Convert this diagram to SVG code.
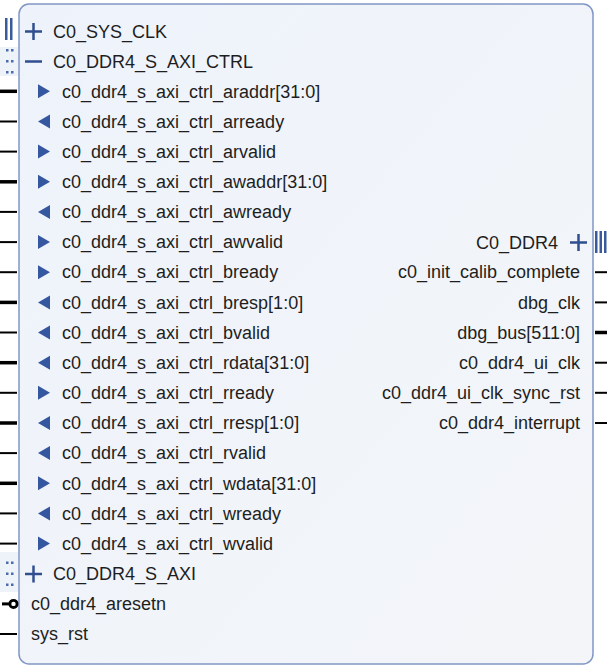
<svg xmlns="http://www.w3.org/2000/svg" width="607" height="671" viewBox="0 0 607 671">
<style>
text{font-family:"Liberation Sans",Arial,sans-serif;font-size:18px;fill:#1e1e1e}
.r{text-anchor:end}
.pin{stroke:#000;stroke-width:2}
.bus{stroke:#000;stroke-width:3.5}
.ic{stroke:#2f4f8f;stroke-width:2.5;fill:none}
.tri{fill:#3557a0}
.bar{fill:#3a5a9a}
.dot{fill:#4a6aa8}
</style>
<defs>
<linearGradient id="bg" x1="0" y1="0" x2="1" y2="1">
<stop offset="0" stop-color="#eef3fb"/>
<stop offset="1" stop-color="#f3f5f8"/>
</linearGradient>
</defs>
<rect width="607" height="671" fill="#ffffff"/>
<g id="block">
<rect x="19" y="4" width="574" height="660" rx="10" fill="url(#bg)" stroke="#8096c4" stroke-width="1.5"/>
</g>
<g id="connectors">
<rect x="0" y="47" width="18" height="29" fill="#eef3fa"/>
<rect x="0" y="552" width="18" height="40" fill="#eef3fa"/>
<rect class="bar" x="5" y="18" width="2.5" height="22"/>
<rect class="bar" x="10" y="18" width="2.5" height="22"/>
<g class="dot">
<rect x="6" y="49" width="2.5" height="2.5"/><rect x="11" y="49" width="2.5" height="2.5"/>
<rect x="6" y="60" width="2.5" height="2.5"/><rect x="11" y="60" width="2.5" height="2.5"/>
<rect x="6" y="71" width="2.5" height="2.5"/><rect x="11" y="71" width="2.5" height="2.5"/>
<rect x="6" y="561.5" width="2.5" height="2.5"/><rect x="11" y="561.5" width="2.5" height="2.5"/>
<rect x="6" y="572.5" width="2.5" height="2.5"/><rect x="11" y="572.5" width="2.5" height="2.5"/>
<rect x="6" y="583.5" width="2.5" height="2.5"/><rect x="11" y="583.5" width="2.5" height="2.5"/>
</g>
<line class="bus" x1="0" y1="91.3" x2="17" y2="91.3"/>
<line class="pin" x1="0" y1="121.5" x2="17" y2="121.5"/>
<line class="pin" x1="0" y1="151.6" x2="17" y2="151.6"/>
<line class="bus" x1="0" y1="181.8" x2="17" y2="181.8"/>
<line class="pin" x1="0" y1="211.9" x2="17" y2="211.9"/>
<line class="pin" x1="0" y1="242.1" x2="17" y2="242.1"/>
<line class="pin" x1="0" y1="272.2" x2="17" y2="272.2"/>
<line class="bus" x1="0" y1="302.4" x2="17" y2="302.4"/>
<line class="pin" x1="0" y1="332.5" x2="17" y2="332.5"/>
<line class="bus" x1="0" y1="362.7" x2="17" y2="362.7"/>
<line class="pin" x1="0" y1="392.8" x2="17" y2="392.8"/>
<line class="bus" x1="0" y1="423" x2="17" y2="423"/>
<line class="pin" x1="0" y1="453.1" x2="17" y2="453.1"/>
<line class="bus" x1="0" y1="483.3" x2="17" y2="483.3"/>
<line class="pin" x1="0" y1="513.4" x2="17" y2="513.4"/>
<line class="pin" x1="0" y1="543.6" x2="17" y2="543.6"/>
<line x1="2" y1="603.9" x2="10" y2="603.9" stroke="#000" stroke-width="3"/>
<circle cx="13.5" cy="603.9" r="3.6" fill="#fff" stroke="#000" stroke-width="2.8"/>
<line class="pin" x1="0" y1="634" x2="17" y2="634"/>
<rect class="bar" x="595" y="231" width="2.5" height="22"/>
<rect class="bar" x="599.5" y="231" width="2.5" height="22"/>
<rect class="bar" x="604" y="231" width="2.5" height="22"/>
<line class="pin" x1="595" y1="272.2" x2="607" y2="272.2"/>
<line class="pin" x1="595" y1="302.4" x2="607" y2="302.4"/>
<line class="bus" x1="595" y1="332.5" x2="607" y2="332.5"/>
<line class="pin" x1="595" y1="362.7" x2="607" y2="362.7"/>
<line class="pin" x1="595" y1="392.8" x2="607" y2="392.8"/>
<line class="pin" x1="595" y1="423" x2="607" y2="423"/>
</g>
<g id="n_C0_SYS_CLK">
<path class="ic" d="M25 31.5H42M33.5 23V40"/>
<text x="53" y="37.5">C0_SYS_CLK</text>
</g>
<g id="n_C0_DDR4_S_AXI_CTRL">
<path class="ic" d="M25 61.5H42"/>
<text x="53" y="67.5">C0_DDR4_S_AXI_CTRL</text>
</g>
<g id="n_ctrl_pins">
<path class="tri" d="M38 84.3L50 91.3L38 98.3Z"/><text x="62" y="97.5">c0_ddr4_s_axi_ctrl_araddr[31:0]</text>
<path class="tri" d="M50 114.5L38 121.5L50 128.5Z"/><text x="62" y="127.7">c0_ddr4_s_axi_ctrl_arready</text>
<path class="tri" d="M38 144.6L50 151.6L38 158.6Z"/><text x="62" y="157.8">c0_ddr4_s_axi_ctrl_arvalid</text>
<path class="tri" d="M38 174.8L50 181.8L38 188.8Z"/><text x="62" y="188">c0_ddr4_s_axi_ctrl_awaddr[31:0]</text>
<path class="tri" d="M50 204.9L38 211.9L50 218.9Z"/><text x="62" y="218.1">c0_ddr4_s_axi_ctrl_awready</text>
<path class="tri" d="M38 235.1L50 242.1L38 249.1Z"/><text x="62" y="248.3">c0_ddr4_s_axi_ctrl_awvalid</text>
<path class="tri" d="M38 265.2L50 272.2L38 279.2Z"/><text x="62" y="278.4">c0_ddr4_s_axi_ctrl_bready</text>
<path class="tri" d="M50 295.4L38 302.4L50 309.4Z"/><text x="62" y="308.6">c0_ddr4_s_axi_ctrl_bresp[1:0]</text>
<path class="tri" d="M50 325.5L38 332.5L50 339.5Z"/><text x="62" y="338.7">c0_ddr4_s_axi_ctrl_bvalid</text>
<path class="tri" d="M50 355.7L38 362.7L50 369.7Z"/><text x="62" y="368.9">c0_ddr4_s_axi_ctrl_rdata[31:0]</text>
<path class="tri" d="M38 385.8L50 392.8L38 399.8Z"/><text x="62" y="399">c0_ddr4_s_axi_ctrl_rready</text>
<path class="tri" d="M50 416L38 423L50 430Z"/><text x="62" y="429.2">c0_ddr4_s_axi_ctrl_rresp[1:0]</text>
<path class="tri" d="M50 446.1L38 453.1L50 460.1Z"/><text x="62" y="459.3">c0_ddr4_s_axi_ctrl_rvalid</text>
<path class="tri" d="M38 476.3L50 483.3L38 490.3Z"/><text x="62" y="489.5">c0_ddr4_s_axi_ctrl_wdata[31:0]</text>
<path class="tri" d="M50 506.4L38 513.4L50 520.4Z"/><text x="62" y="519.6">c0_ddr4_s_axi_ctrl_wready</text>
<path class="tri" d="M38 536.6L50 543.6L38 550.6Z"/><text x="62" y="549.8">c0_ddr4_s_axi_ctrl_wvalid</text>
</g>
<g id="n_C0_DDR4_S_AXI">
<path class="ic" d="M25 574H42M33.5 565.5V582.5"/>
<text x="53" y="580">C0_DDR4_S_AXI</text>
</g>
<g id="n_c0_ddr4_aresetn"><text x="31" y="610">c0_ddr4_aresetn</text></g>
<g id="n_sys_rst"><text x="31" y="640.2">sys_rst</text></g>
<g id="n_C0_DDR4">
<path class="ic" d="M570 242.5H587M578.5 234V251"/>
<text class="r" x="558" y="248.5">C0_DDR4</text>
</g>
<g id="n_right_pins">
<text class="r" x="580" y="278.4">c0_init_calib_complete</text>
<text class="r" x="580" y="308.6">dbg_clk</text>
<text class="r" x="580" y="338.7">dbg_bus[511:0]</text>
<text class="r" x="580" y="368.9">c0_ddr4_ui_clk</text>
<text class="r" x="580" y="399">c0_ddr4_ui_clk_sync_rst</text>
<text class="r" x="580" y="429.2">c0_ddr4_interrupt</text>
</g>
</svg>
